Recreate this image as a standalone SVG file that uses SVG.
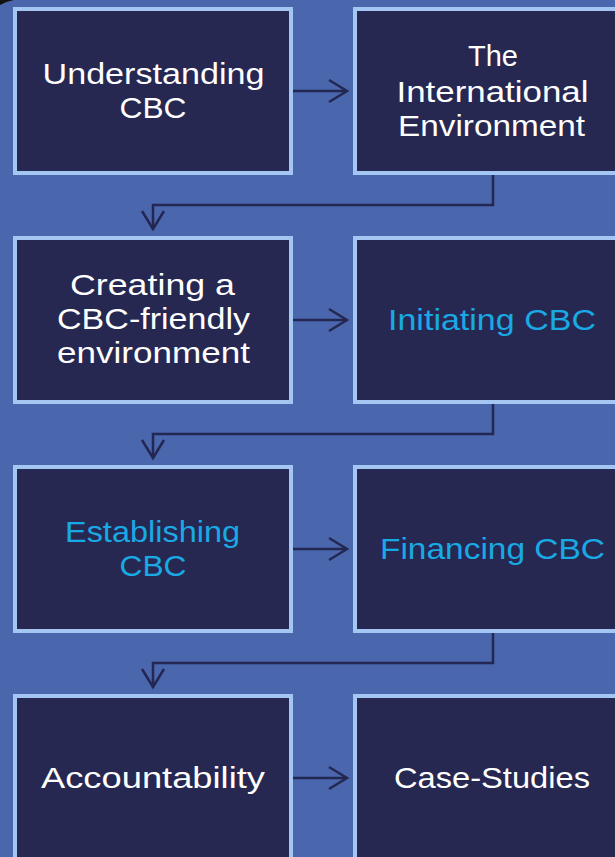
<svg xmlns="http://www.w3.org/2000/svg" width="615" height="857" viewBox="0 0 615 857">
<style>
.box{fill:#262852;stroke:#a3c6f3;stroke-width:4}
.t{font-family:"Liberation Sans","DejaVu Sans",sans-serif;font-size:30px;fill:#ffffff;text-anchor:middle}
.c{fill:#19a9e4}
.conn{fill:none;stroke:#232751;stroke-width:2.5}
</style>
<defs>
<marker id="ah" viewBox="0 0 18 22" refX="18" refY="11" markerWidth="18" markerHeight="22" markerUnits="userSpaceOnUse" orient="auto" overflow="visible">
<path d="M0 0 L18 11 L0 22" fill="none" stroke="#232751" stroke-width="2.5"/>
</marker>
</defs>
<rect width="615" height="857" fill="#4a67ae"/>
<path d="M0 0 H14 Q6 1.5 0 5 Z" fill="#111111"/>

<g id="n1"><rect class="box" x="15" y="9" width="276" height="164"/>
<text class="t" x="153.5" y="84" textLength="222" lengthAdjust="spacingAndGlyphs">Understanding</text>
<text class="t" x="153" y="118" textLength="67" lengthAdjust="spacingAndGlyphs">CBC</text></g>

<g id="n2"><rect class="box" x="355" y="9" width="280" height="164"/>
<text class="t" x="493" y="66" textLength="50" lengthAdjust="spacingAndGlyphs">The</text>
<text class="t" x="492.5" y="101.5" textLength="192" lengthAdjust="spacingAndGlyphs">International</text>
<text class="t" x="491.5" y="136" textLength="187" lengthAdjust="spacingAndGlyphs">Environment</text></g>

<g id="n3"><rect class="box" x="15" y="238" width="276" height="164"/>
<text class="t" x="152.5" y="295" textLength="165" lengthAdjust="spacingAndGlyphs">Creating a</text>
<text class="t" x="153.5" y="329" textLength="193" lengthAdjust="spacingAndGlyphs">CBC-friendly</text>
<text class="t" x="153.5" y="363" textLength="193" lengthAdjust="spacingAndGlyphs">environment</text></g>

<g id="n4"><rect class="box" x="355" y="238" width="280" height="164"/>
<text class="t c" x="492" y="329.5" textLength="208" lengthAdjust="spacingAndGlyphs">Initiating CBC</text></g>

<g id="n5"><rect class="box" x="15" y="467" width="276" height="164"/>
<text class="t c" x="152.5" y="541.5" textLength="175" lengthAdjust="spacingAndGlyphs">Establishing</text>
<text class="t c" x="153" y="576" textLength="67" lengthAdjust="spacingAndGlyphs">CBC</text></g>

<g id="n6"><rect class="box" x="355" y="467" width="280" height="164"/>
<text class="t c" x="492.5" y="559" textLength="225" lengthAdjust="spacingAndGlyphs">Financing CBC</text></g>

<g id="n7"><rect class="box" x="15" y="696" width="276" height="200"/>
<text class="t" x="153" y="788" textLength="224" lengthAdjust="spacingAndGlyphs">Accountability</text></g>

<g id="n8"><rect class="box" x="355" y="696" width="280" height="200"/>
<text class="t" x="492" y="788" textLength="196" lengthAdjust="spacingAndGlyphs">Case-Studies</text></g>

<g id="connectors">
<path class="conn" d="M293 91 H347" marker-end="url(#ah)"/>
<path class="conn" d="M493 175 V205 H153 V229" marker-end="url(#ah)"/>
<path class="conn" d="M293 320 H347" marker-end="url(#ah)"/>
<path class="conn" d="M493 404 V434 H153 V458" marker-end="url(#ah)"/>
<path class="conn" d="M293 549 H347" marker-end="url(#ah)"/>
<path class="conn" d="M493 633 V663 H153 V687" marker-end="url(#ah)"/>
<path class="conn" d="M293 778 H347" marker-end="url(#ah)"/>
</g>
</svg>
